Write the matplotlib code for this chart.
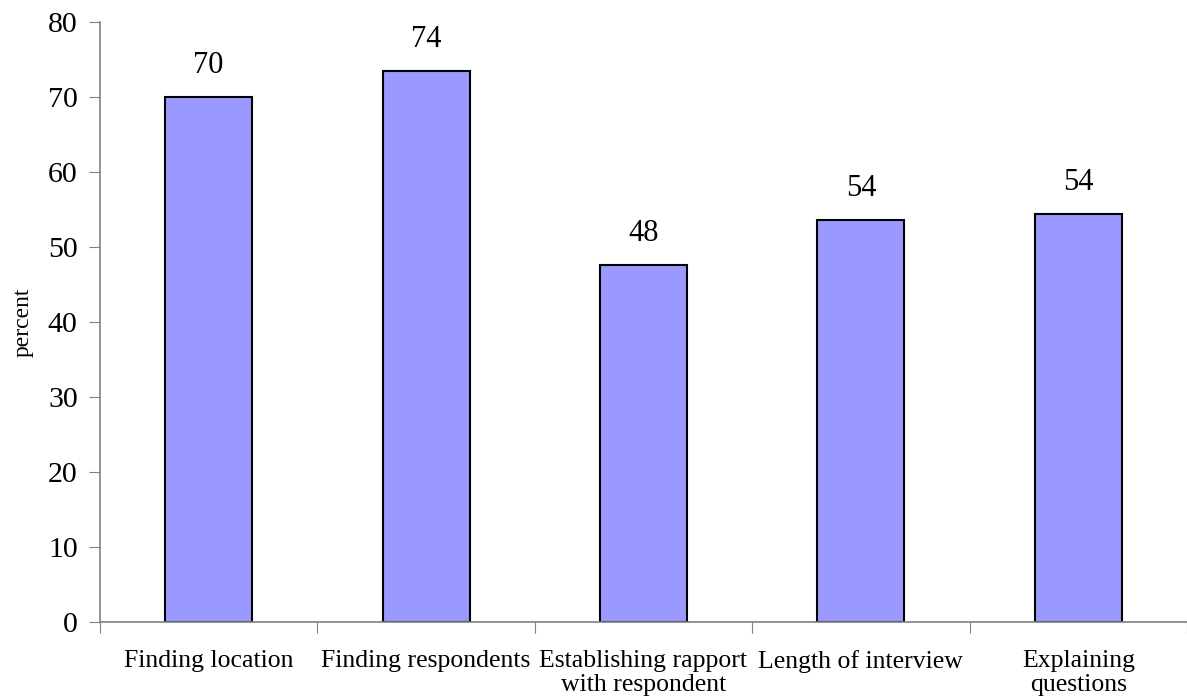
import matplotlib.pyplot as plt
import numpy as np

# data
categories = ['Finding location', 'Finding respondents', 'Establishing rapport\nwith respondent',
              'Length of interview', 'Explaining\nquestions']
values = [70, 73.5, 47.6, 53.6, 54.4]
labels = ['70', '74', '48', '54', '54']

plt.rcParams['font.family'] = ['Liberation Serif', 'DejaVu Serif']

fig = plt.figure(figsize=(11.87, 7), dpi=100)
ax = fig.add_axes([0.0842, 0.1114, 0.9158, 0.8572])

x = np.arange(len(categories))
ax.bar(x, values, width=0.4, color='#9999ff', edgecolor='black', linewidth=1.5, zorder=2)

# value labels over bars
for xi, v, t in zip(x, values, labels):
    ax.text(xi, v + 2.2, t, ha='center', va='bottom', fontsize=22)

ax.set_xlim(-0.5, len(categories) - 0.5)
ax.set_ylim(0, 80)
ax.set_yticks(np.arange(0, 81, 10))
ax.set_yticklabels([str(t) for t in range(0, 81, 10)], fontsize=21.5)

# ticks between categories, labels at centres
ax.set_xticks(np.arange(-0.5, len(categories), 1))
ax.set_xticklabels([])
ax.set_xticks(x, minor=True)
ax.set_xticklabels(categories, minor=True, fontsize=18.5, linespacing=1.15)
ax.tick_params(axis='x', which='minor', length=0, pad=20)
ax.tick_params(axis='x', which='major', length=8, color='#808080', direction='out')
ax.tick_params(axis='y', length=8, color='#808080', direction='out', pad=8)

ax.set_ylabel('percent', fontsize=17, labelpad=10)

for s in ['top', 'right']:
    ax.spines[s].set_visible(False)
for s in ['left', 'bottom']:
    ax.spines[s].set_color('#808080')
    ax.spines[s].set_linewidth(1.2)

fig.savefig('out.png', dpi=100)
